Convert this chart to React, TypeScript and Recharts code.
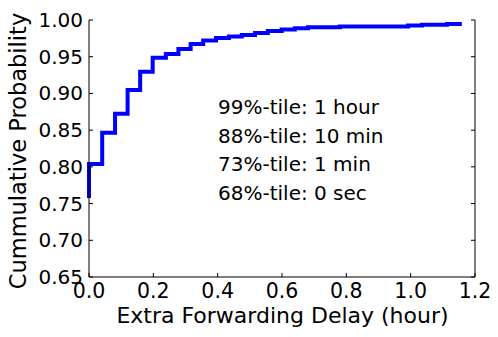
import React from 'react';
import { LineChart, Line, XAxis, YAxis } from 'recharts';

// step CDF: delay (hours) where the step starts, probability after it
const delayHours = [
  0, 0, 0.041, 0.081, 0.12, 0.159, 0.198, 0.239, 0.278, 0.316, 0.355, 0.395,
  0.435, 0.475, 0.516, 0.556, 0.599, 0.64, 0.681, 0.78, 0.992, 1.035, 1.113, 1.159,
];
const cumulativeProb = [
  0.7576, 0.8039, 0.8465, 0.8724, 0.9047, 0.9296, 0.9487, 0.9537, 0.9605, 0.9673,
  0.9721, 0.9755, 0.9775, 0.9796, 0.9823, 0.985, 0.9871, 0.9887, 0.9901, 0.9911,
  0.9925, 0.9936, 0.9945, 0.9945,
];

const xTicks = [0, 0.2, 0.4, 0.6, 0.8, 1.0, 1.2];
const yTicks = [0.65, 0.7, 0.75, 0.8, 0.85, 0.9, 0.95, 1.0];

const percentileNotes = [
  '99%-tile: 1 hour',
  '88%-tile: 10 min',
  '73%-tile: 1 min',
  '68%-tile: 0 sec',
];

const FONT = 'DejaVu Sans';

const data = delayHours.map((d, i) => ({ delay: d, prob: cumulativeProb[i] }));

const BottomTick = ({ x, y, payload }: any) => (
  <g>
    <line x1={x} y1={y} x2={x} y2={y - 4} stroke="#000" />
    <text x={x} y={y + 20.5} textAnchor="middle" fontSize={20.5} fontFamily={FONT} fill="#000">
      {Number(payload.value).toFixed(1)}
    </text>
  </g>
);

const LeftTick = ({ x, y, payload }: any) => (
  <g>
    <line x1={x} y1={y} x2={x + 4} y2={y} stroke="#000" />
    <text x={x - 6} y={y + 7} textAnchor="end" fontSize={20} fontFamily={FONT} fill="#000">
      {Number(payload.value).toFixed(2)}
    </text>
  </g>
);

const TopTick = ({ x, y }: any) => <line x1={x} y1={y} x2={x} y2={y + 4} stroke="#000" />;
const RightTick = ({ x, y }: any) => <line x1={x} y1={y} x2={x - 4} y2={y} stroke="#000" />;

export default function App() {
  return (
    <div style={{ position: 'absolute', left: 0, top: 0, width: 498, height: 337, background: '#fff' }}>
      <LineChart width={498} height={337} data={data} margin={{ top: 20, right: 0, bottom: 0, left: 0 }}>
        <XAxis
          dataKey="delay"
          type="number"
          domain={[0, 1.2]}
          ticks={xTicks}
          interval={0}
          height={60}
          tickSize={0}
          tickMargin={0}
          tickLine={false}
          axisLine={{ stroke: '#000' }}
          tick={<BottomTick />}
        />
        <XAxis
          xAxisId="top"
          orientation="top"
          dataKey="delay"
          type="number"
          domain={[0, 1.2]}
          ticks={xTicks}
          interval={0}
          height={0}
          tickSize={0}
          tickMargin={0}
          tickLine={false}
          axisLine={{ stroke: '#000' }}
          tick={<TopTick />}
        />
        <YAxis
          type="number"
          domain={[0.65, 1.0]}
          ticks={yTicks}
          interval={0}
          width={89}
          tickSize={0}
          tickMargin={0}
          tickLine={false}
          axisLine={{ stroke: '#000' }}
          tick={<LeftTick />}
        />
        <YAxis
          yAxisId="right"
          orientation="right"
          type="number"
          domain={[0.65, 1.0]}
          ticks={yTicks}
          interval={0}
          width={23}
          tickSize={0}
          tickMargin={0}
          tickLine={false}
          axisLine={{ stroke: '#000' }}
          tick={<RightTick />}
        />
        <Line
          xAxisId="top"
          yAxisId="right"
          dataKey="prob"
          stroke="none"
          dot={false}
          activeDot={false}
          isAnimationActive={false}
        />
        <Line
          type="stepAfter"
          dataKey="prob"
          stroke="#0000ff"
          strokeWidth={4}
          strokeLinejoin="miter"
          dot={false}
          activeDot={false}
          isAnimationActive={false}
        />
      </LineChart>
      <svg
        width={498}
        height={337}
        style={{ position: 'absolute', left: 0, top: 0, pointerEvents: 'none' }}
        fontFamily={FONT}
      >
        {percentileNotes.map((t, i) => (
          <text key={t} x={218} y={114 + i * 28.7} fill="#000" fontSize={20}>
            {t}
          </text>
        ))}
        <text x={282.5} y={323} textAnchor="middle" fill="#000" fontSize={22}>
          Extra Forwarding Delay (hour)
        </text>
        <text
          x={26}
          y={151}
          textAnchor="middle"
          fill="#000"
          fontSize={22.5}
          transform="rotate(-90 26 151)"
        >
          Cummulative Probability
        </text>
      </svg>
    </div>
  );
}
